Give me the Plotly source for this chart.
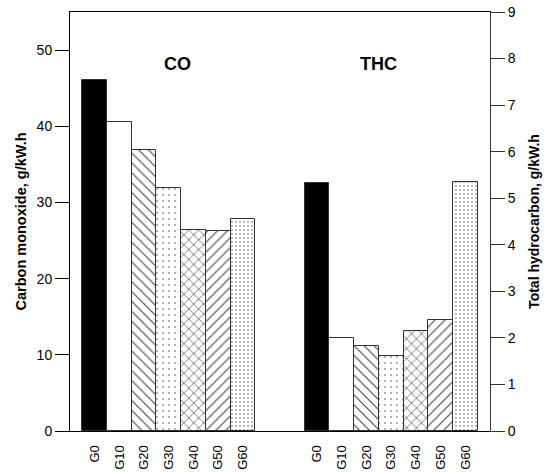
import plotly.graph_objects as go

categories = ["G0", "G10", "G20", "G30", "G40", "G50", "G60"]
co_values = [46.1, 40.6, 36.9, 31.9, 26.4, 26.2, 27.8]
thc_values = [5.33, 2.0, 1.83, 1.62, 2.14, 2.39, 5.35]
group_labels = ["CO", "THC"]

fills = ["black", "white", "white", "white", "white", "white", "white"]
shapes = ["", "", "\\", ".", "x", "/", "."]
psizes = [8, 8, 7, 6, 7, 7, 4]
psolid = [0.2, 0.2, 0.16, 0.05, 0.18, 0.16, 0.1]

n = len(categories)
co_x = list(range(n))
thc_x = [i + n + 2 for i in range(n)]

font_family = "Liberation Sans, Arial, sans-serif"

def bar(x, y, axis):
    return go.Bar(
        x=x, y=y, yaxis=axis, width=1.0, showlegend=False,
        marker=dict(
            color=fills,
            line=dict(color="#333333", width=1),
            pattern=dict(shape=shapes, size=psizes, solidity=psolid,
                         fgcolor="black", fgopacity=1, fillmode="overlay"),
        ),
    )

fig = go.Figure()
fig.add_trace(bar(co_x, co_values, "y"))
fig.add_trace(bar(thc_x, thc_values, "y2"))

fig.update_layout(
    width=550, height=472,
    margin=dict(l=70, r=60, t=12, b=41),
    paper_bgcolor="white", plot_bgcolor="white",
    font=dict(family=font_family, color="black", size=14),
    bargap=0,
    xaxis=dict(
        range=[-1, 2 * n + 2], tickvals=co_x + thc_x, ticktext=categories + categories,
        tickangle=-90, showline=True, linecolor="black", linewidth=1, mirror=True,
        ticks="", showgrid=False, zeroline=False, tickfont=dict(size=13),
        ticklabelstandoff=8, automargin=False,
    ),
    yaxis=dict(
        range=[0, 55], tickvals=[0, 10, 20, 30, 40, 50], showline=True,
        linecolor="black", linewidth=1, ticks="outside", ticklen=14,
        tickcolor="black", showgrid=False, zeroline=False, automargin=False,
        title=dict(text="<b>Carbon monoxide, g/kW.h</b>", font=dict(size=14.5), standoff=6),
    ),
    yaxis2=dict(
        range=[0, 9], dtick=1, overlaying="y", side="right", showline=True,
        linecolor="#333333", linewidth=1, ticks="outside", ticklen=14,
        tickcolor="#333333", showgrid=False, zeroline=False, automargin=False,
        title=dict(text="<b>Total hydrocarbon, g/kW.h</b>", font=dict(size=14), standoff=14),
    ),
)

for i, lab in enumerate(group_labels):
    fig.add_annotation(
        x=[3.35, 11.5][i], y=0.905, xref="x", yref="paper",
        text="<b>" + lab + "</b>", showarrow=False, font=dict(size=18),
    )

fig.write_html("out.html")
